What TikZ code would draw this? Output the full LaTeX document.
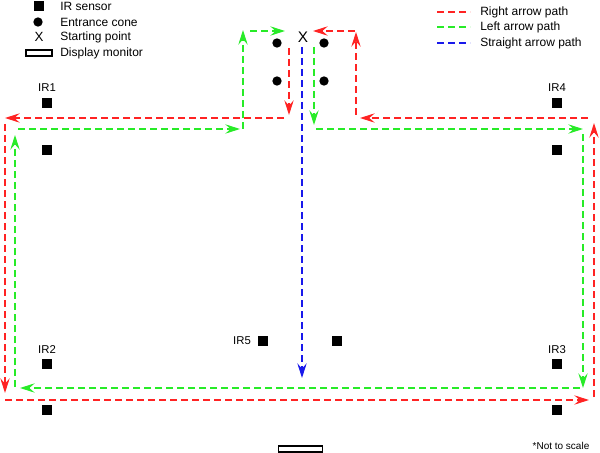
\documentclass[tikz,border=0pt]{standalone}
\usepackage{fontspec}
\setmainfont{Liberation Sans}
\usetikzlibrary{arrows.meta}
\definecolor{pathred}{RGB}{255,35,35}
\definecolor{pathgreen}{RGB}{40,235,40}
\definecolor{pathblue}{RGB}{25,25,235}
\tikzset{
  pathline/.style={line width=1pt, dash pattern=on 5.25pt off 3pt},
  pathtip/.style={-{Stealth[length=11pt,width=7pt,inset=4pt]}},
  rightpath/.style={pathline, pathtip, draw=pathred},
  leftpath/.style={pathline, pathtip, draw=pathgreen},
  straightpath/.style={pathline, pathtip, draw=pathblue},
  sensor/.style={fill=black, inner sep=0pt, minimum size=8pt},
  cone/.style={circle, fill=black, inner sep=0pt, minimum size=7pt},
  monitor/.style={draw=black, line width=1.1pt, inner sep=0pt, minimum width=33pt, minimum height=4.5pt},
  legendtext/.style={anchor=west, inner sep=0pt},
  irlabel/.style={inner sep=0pt, font=\fontsize{8.5pt}{10pt}\selectfont}
}
\begin{document}
\begin{tikzpicture}[x=0.75pt, y=-0.75pt, font=\fontsize{9pt}{11pt}\selectfont]
    \useasboundingbox (0,0) rectangle (600,453);

    % legend, left
    \node[sensor] (legsensor) at (39,6) {};
    \node[cone] (legcone) at (38,22) {};
    \node[inner sep=0pt, font=\fontsize{10pt}{12pt}\selectfont] (legstart) at (39,37) {X};
    \node[draw=black, line width=0.8pt, inner sep=0pt, minimum width=19.5pt, minimum height=4.5pt] (legmonitor) at (39,53) {};
    \node[legendtext] at (60,6) {IR sensor};
    \node[legendtext] at (60,22) {Entrance cone};
    \node[legendtext] at (60,37) {Starting point};
    \node[legendtext] at (60,53) {Display monitor};

    % legend, right
    \coordinate (legra) at (437,12);
    \coordinate (legrb) at (470,12);
    \coordinate (legga) at (437,27);
    \coordinate (leggb) at (470,27);
    \coordinate (legba) at (437,43);
    \coordinate (legbb) at (470,43);
    \draw[pathline, draw=pathred] (legra) -- (legrb);
    \draw[pathline, draw=pathgreen] (legga) -- (leggb);
    \draw[pathline, draw=pathblue] (legba) -- (legbb);
    \node[legendtext] at (480,12) {Right arrow path};
    \node[legendtext] at (480,27) {Left arrow path};
    \node[legendtext] at (480,43) {Straight arrow path};

    % sensors
    \node[sensor] (ira) at (47,103) {};
    \node[sensor] (irb) at (47,150) {};
    \node[sensor] (irc) at (47,364) {};
    \node[sensor] (ird) at (47,410) {};
    \node[sensor] (ire) at (557,364) {};
    \node[sensor] (irf) at (557,410) {};
    \node[sensor] (irg) at (557,103) {};
    \node[sensor] (irh) at (557,150) {};
    \node[sensor] (iri) at (263,341) {};
    \node[sensor] (irj) at (337,341) {};
    \node[irlabel] at (47,88) {IR1};
    \node[irlabel] at (47,350) {IR2};
    \node[irlabel] at (557,350) {IR3};
    \node[irlabel] at (557,88) {IR4};
    \node[irlabel] at (242,341) {IR5};

    % entrance cones and start
    \node[cone] (cna) at (277,43) {};
    \node[cone] (cnb) at (324,43) {};
    \node[cone] (cnc) at (277,81) {};
    \node[cone] (cnd) at (324,81) {};
    \node[inner sep=0pt, font=\fontsize{11.5pt}{13pt}\selectfont] (start) at (303,37) {X};

    % display monitor
    \node[monitor] (display) at (300.5,449) {};

    % right arrow path
    \coordinate (ra) at (289,48);
    \coordinate (rb) at (289,115);
    \coordinate (rc) at (284,118);
    \coordinate (rd) at (5,118);
    \coordinate (re) at (5,124);
    \coordinate (rf) at (5,393);
    \coordinate (rg) at (5,400);
    \coordinate (rh) at (589,400);
    \coordinate (ri) at (594,397);
    \coordinate (rj) at (594,123);
    \coordinate (rk) at (588,118);
    \coordinate (rl) at (360,118);
    \coordinate (rm) at (356,115);
    \coordinate (rn) at (356,32);
    \coordinate (ro) at (355,31);
    \coordinate (rp) at (313,31);
    \draw[rightpath] (ra) -- (rb);
    \draw[rightpath] (rc) -- (rd);
    \draw[rightpath] (re) -- (rf);
    \draw[rightpath] (rg) -- (rh);
    \draw[rightpath] (ri) -- (rj);
    \draw[rightpath] (rk) -- (rl);
    \draw[rightpath] (rm) -- (rn);
    \draw[rightpath] (ro) -- (rp);

    % left arrow path
    \coordinate (ga) at (314,47);
    \coordinate (gb) at (314,125);
    \coordinate (gc) at (316,129);
    \coordinate (gd) at (583,129);
    \coordinate (ge) at (583,134);
    \coordinate (gf) at (583,388);
    \coordinate (gg) at (580,388);
    \coordinate (gh) at (20,388);
    \coordinate (gi) at (15,387);
    \coordinate (gj) at (15,135);
    \coordinate (gk) at (18,129);
    \coordinate (gl) at (240,129);
    \coordinate (gm) at (243,129);
    \coordinate (gn) at (243,30);
    \coordinate (go) at (250,31);
    \coordinate (gp) at (285,31);
    \draw[leftpath] (ga) -- (gb);
    \draw[leftpath] (gc) -- (gd);
    \draw[leftpath] (ge) -- (gf);
    \draw[leftpath] (gg) -- (gh);
    \draw[leftpath] (gi) -- (gj);
    \draw[leftpath] (gk) -- (gl);
    \draw[leftpath] (gm) -- (gn);
    \draw[leftpath] (go) -- (gp);

    % straight arrow path
    \coordinate (ba) at (302,47);
    \coordinate (bb) at (302,378);
    \draw[straightpath] (ba) -- (bb);

    \node[inner sep=0pt, font=\fontsize{7.5pt}{9pt}\selectfont] at (561,446) {*Not to scale};
\end{tikzpicture}
\end{document}
